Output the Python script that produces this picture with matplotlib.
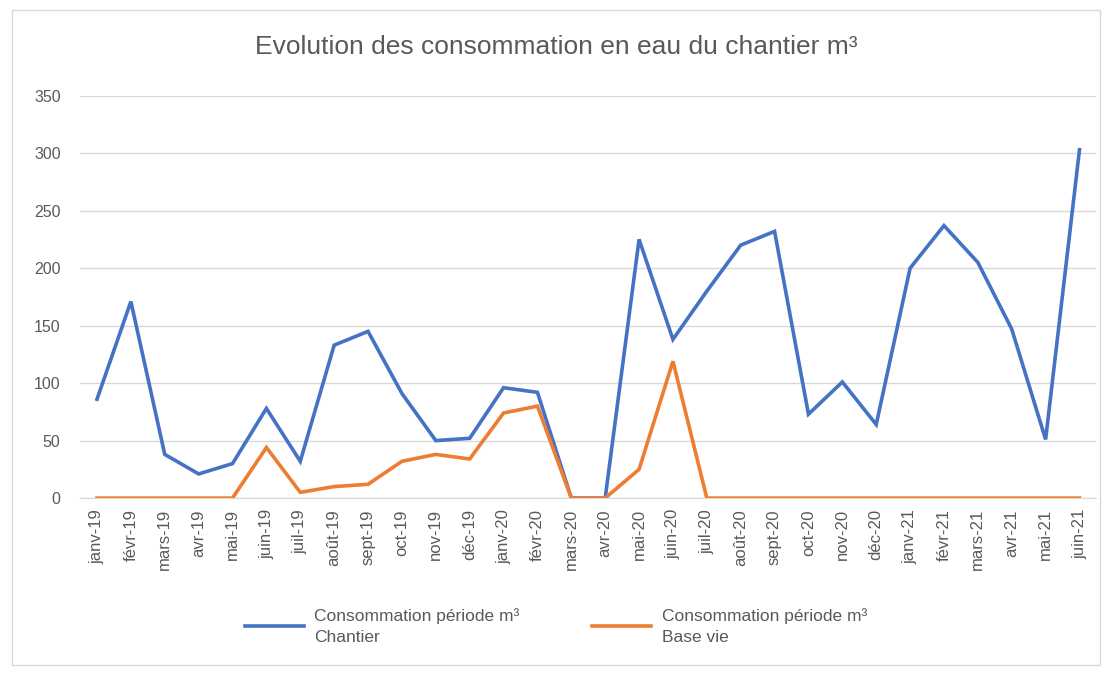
import matplotlib.pyplot as plt
from matplotlib.patches import Rectangle

mois = ["janv-19", "févr-19", "mars-19", "avr-19", "mai-19", "juin-19", "juil-19",
        "août-19", "sept-19", "oct-19", "nov-19", "déc-19", "janv-20", "févr-20",
        "mars-20", "avr-20", "mai-20", "juin-20", "juil-20", "août-20", "sept-20",
        "oct-20", "nov-20", "déc-20", "janv-21", "févr-21", "mars-21", "avr-21",
        "mai-21", "juin-21"]

chantier = [86, 171, 38, 21, 30, 78, 32, 133, 145, 91, 50, 52, 96, 92,
            0, 0, 225, 138, 180, 220, 232, 73, 101, 64, 200, 237, 205, 147,
            51, 303]

base_vie = [0, 0, 0, 0, 0, 44, 5, 10, 12, 32, 38, 34, 74, 80,
            0, 0, 25, 119, 0, 0, 0, 0, 0, 0, 0, 0, 0, 0,
            0, 0]

yticks = [0, 50, 100, 150, 200, 250, 300, 350]

plt.rcParams["font.family"] = ["Liberation Sans", "DejaVu Sans"]
gris = "#595959"

fig = plt.figure(figsize=(11.12, 6.74), dpi=100)
ax = fig.add_axes([0.072, 0.261, 0.914, 0.597])

x = list(range(len(mois)))
ax.plot(x, chantier, color="#4472C4", lw=2.6, label="Consommation période m³\nChantier",
        solid_joinstyle="miter")
ax.plot(x, base_vie, color="#ED7D31", lw=2.6, label="Consommation période m³\nBase vie",
        solid_joinstyle="miter")

ax.set_xlim(-0.5, len(mois) - 0.5)
ax.set_ylim(0, 350)
ax.set_yticks(yticks)
ax.set_xticks(x)
ax.set_xticklabels(mois, rotation=90, color=gris, fontsize=12)
ax.tick_params(axis="y", colors=gris, labelsize=11.5, length=0, pad=14)
ax.tick_params(axis="x", length=0, pad=8)
ax.grid(axis="y", color="#D9D9D9", lw=1)
ax.set_axisbelow(True)
for s in ["top", "right", "left"]:
    ax.spines[s].set_visible(False)
ax.spines["bottom"].set_color("#D9D9D9")

fig.suptitle("Evolution des consommation en eau du chantier m³", y=0.948,
             fontsize=19, color=gris)

leg = fig.legend(loc="center", bbox_to_anchor=(0.5, 0.071), ncol=2, frameon=False,
                 fontsize=12.5, handlelength=3.4, columnspacing=4.2, labelcolor=gris,
                 handletextpad=0.6)
for t in leg.get_texts():
    t.set_linespacing(1.5)

fig.patches.append(Rectangle((0.011, 0.013), 0.978, 0.972, transform=fig.transFigure,
                             fill=False, edgecolor="#D9D9D9", lw=1))

fig.savefig("out.png", dpi=100)
